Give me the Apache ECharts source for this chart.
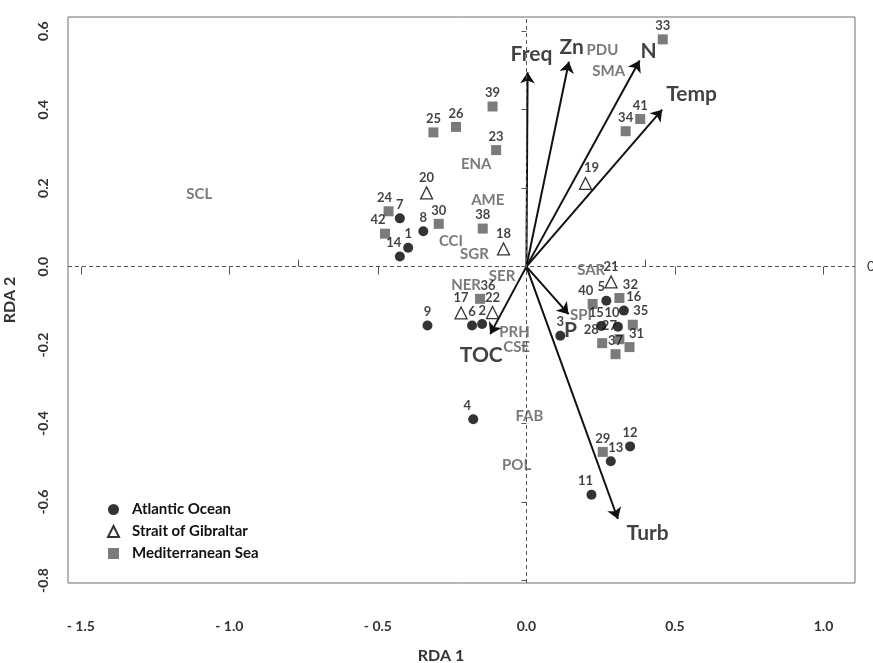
<!DOCTYPE html>
<html>
<head>
<meta charset="utf-8">
<title>RDA biplot</title>
<script src="https://cdn.jsdelivr.net/npm/echarts@6/dist/echarts.min.js"></script>
<style>
  html, body { margin: 0; padding: 0; background: #fff; }
  #chart { width: 873px; height: 663px; }
</style>
</head>
<body>
<div id="chart"></div>
<script>
// sample scores, RDA 1 / RDA 2
const atlanticIds = [1, 2, 3, 4, 5, 6, 7, 8, 9, 10, 11, 12, 13, 14, 15, 16];
const atlanticX = [-0.398, -0.149, 0.114, -0.179, 0.269, -0.183, -0.426, -0.347, -0.333, 0.308, 0.219, 0.349, 0.284, -0.426, 0.252, 0.328];
const atlanticY = [0.048, -0.146, -0.176, -0.389, -0.087, -0.150, 0.123, 0.090, -0.150, -0.153, -0.581, -0.458, -0.496, 0.026, -0.151, -0.112];

const gibraltarIds = [17, 18, 19, 20, 21, 22];
const gibraltarX = [-0.220, -0.077, 0.199, -0.336, 0.285, -0.114];
const gibraltarY = [-0.118, 0.045, 0.212, 0.188, -0.039, -0.117];

const medIds = [23, 24, 25, 26, 27, 28, 29, 30, 31, 32, 33, 34, 35, 36, 37, 38, 39, 40, 41, 42];
const medX = [-0.102, -0.464, -0.313, -0.237, 0.313, 0.255, 0.257, -0.295, 0.347, 0.313, 0.459, 0.334, 0.358, -0.156, 0.300, -0.147, -0.114, 0.223, 0.383, -0.476];
const medY = [0.297, 0.141, 0.342, 0.356, -0.185, -0.195, -0.472, 0.109, -0.205, -0.080, 0.579, 0.345, -0.148, -0.082, -0.223, 0.097, 0.408, -0.095, 0.376, 0.084];

// species scores
const speciesNames = ["SCL", "ENA", "AME", "CCI", "SGR", "SER", "NER", "PRH", "CSE", "SAR", "SPI", "FAB", "POL", "PDU", "SMA"];
const speciesX = [-1.101, -0.169, -0.130, -0.254, -0.175, -0.082, -0.203, -0.040, -0.033, 0.218, 0.184, 0.010, -0.033, 0.256, 0.277];
const speciesY = [0.184, 0.261, 0.169, 0.066, 0.032, -0.023, -0.046, -0.167, -0.205, -0.008, -0.123, -0.381, -0.506, 0.551, 0.498];

// environmental vectors (arrow tips) and their label spots
const envNames = ["Freq", "Zn", "N", "Temp", "TOC", "P", "Turb"];
const envX = [0.004, 0.143, 0.381, 0.457, -0.122, 0.142, 0.308];
const envY = [0.495, 0.522, 0.525, 0.400, -0.172, -0.121, -0.643];
const envLabelX = [0.017, 0.152, 0.411, 0.556, -0.152, 0.148, 0.408];
const envLabelY = [0.542, 0.560, 0.550, 0.440, -0.225, -0.161, -0.678];

// axis ticks
const xTickValues = [-1.5, -1.0, -0.5, 0, 0.5, 1.0];
const xTickLabels = ["- 1.5", "- 1.0", "- 0.5", "0.0", "0.5", "1.0"];
const yTickValues = [-0.8, -0.6, -0.4, -0.2, 0, 0.2, 0.4, 0.6];
const yTickLabels = ["-0.8", "-0.6", "-0.4", "-0.2", "0.0", "0.2", "0.4", "0.6"];
const topTickValues = [-0.769, 0.399];

// sideways nudges for crowded sample numbers (px)
const labelShift = { 4: -6, 5: -5, 10: -6, 11: -6, 13: 5, 14: -6, 15: -5, 16: 10, 19: 6, 24: -4, 27: -10, 28: -11, 31: 7, 32: 11, 35: 8, 36: 8, 40: -7, 42: -7 };

const FONT = 'Lato, "Open Sans", sans-serif';

const pick = (values, labels) => (v) => {
  const i = values.findIndex((t) => Math.abs(t - v) < 1e-6);
  return i < 0 ? "" : labels[i];
};

const samplePoints = (ids, xs, ys) =>
  ids.map((id, i) => ({
    value: [xs[i], ys[i], id],
    label: { offset: [labelShift[id] || 0, 0] },
  }));

const sampleLabel = {
  show: true,
  position: "top",
  distance: 2,
  formatter: (p) => p.value[2],
  fontSize: 13,
  fontWeight: "bold",
  fontFamily: FONT,
  color: "#111",
};

const chart = echarts.init(document.getElementById("chart"));

const option = {
  animation: false,
  textStyle: { fontFamily: FONT },
  grid: {
    left: 68,
    right: 18,
    top: 17,
    bottom: 80,
    outerBoundsMode: "none",
    show: true,
    borderColor: "#6e6e6e",
    borderWidth: 1,
  },
  legend: {
    orient: "vertical",
    left: 102,
    top: 497,
    itemWidth: 11,
    itemHeight: 11,
    itemGap: 7,
    textStyle: { fontSize: 15, fontWeight: "bold", color: "#111", fontFamily: FONT, padding: [0, 0, 0, 8] },
    data: ["Atlantic Ocean", "Strait of Gibraltar", "Mediterranean Sea"],
  },
  xAxis: [
    {
      type: "value",
      min: -1.543,
      max: 1.106,
      position: "bottom",
      offset: 2,
      axisLine: { show: false },
      splitLine: { show: false },
      axisTick: { show: true, length: 8, customValues: xTickValues, lineStyle: { color: "#555" } },
      axisLabel: {
        customValues: xTickValues,
        formatter: pick(xTickValues, xTickLabels),
        margin: 34,
        fontSize: 14,
        fontWeight: "bold",
        color: "#333",
        fontFamily: FONT,
      },
    },
    {
      type: "value",
      min: -1.543,
      max: 1.106,
      position: "top",
      axisLine: { show: false },
      splitLine: { show: false },
      axisTick: { show: true, length: 7, customValues: topTickValues, lineStyle: { color: "#555" } },
      axisLabel: { show: false },
    },
  ],
  yAxis: [
    {
      type: "value",
      min: -0.806,
      max: 0.636,
      axisLine: { show: false },
      splitLine: { show: false },
      axisTick: { show: true, length: 5, customValues: yTickValues, lineStyle: { color: "#555" } },
      axisLabel: {
        customValues: yTickValues,
        formatter: pick(yTickValues, yTickLabels),
        rotate: 90,
        margin: 18,
        fontSize: 14,
        fontWeight: "bold",
        color: "#333",
        fontFamily: FONT,
      },
      name: "RDA 2",
      nameLocation: "middle",
      nameGap: 50,
      nameTextStyle: { fontSize: 16, fontWeight: "bold", color: "#333", fontFamily: FONT },
    },
    {
      type: "value",
      min: -0.806,
      max: 0.636,
      position: "right",
      axisLine: { show: false },
      splitLine: { show: false },
      axisTick: { show: false },
      axisLabel: {
        customValues: [0],
        formatter: () => "0",
        margin: 12,
        fontSize: 14,
        color: "#333",
      },
    },
  ],
  graphic: [
    {
      type: "text",
      x: 441,
      y: 656,
      style: { text: "RDA 1", align: "center", verticalAlign: "middle", font: "bold 16px " + FONT, fill: "#333" },
    },
  ],
  series: [
    {
      name: "vectors",
      type: "lines",
      coordinateSystem: "cartesian2d",
      silent: true,
      symbol: ["none", "arrow"],
      symbolSize: [0, 11],
      lineStyle: { color: "#111", width: 2, opacity: 1 },
      data: envNames.map((n, i) => ({ coords: [[0, 0], [envX[i], envY[i]]] })),
      z: 2,
    },
    {
      name: "vector labels",
      type: "scatter",
      silent: true,
      symbolSize: 1,
      itemStyle: { color: "rgba(0,0,0,0)" },
      label: {
        show: true,
        position: "inside",
        formatter: (p) => p.value[2],
        fontSize: 21,
        fontWeight: "bold",
        fontFamily: FONT,
        color: "#111",
      },
      data: envNames.map((n, i) => [envLabelX[i], envLabelY[i], n]),
      markLine: {
        silent: true,
        symbol: ["none", "none"],
        label: { show: false },
        lineStyle: { type: [4, 3], color: "#555", width: 1 },
        data: [{ xAxis: 0 }, { yAxis: 0 }],
      },
      z: 1,
    },
    {
      name: "species",
      type: "scatter",
      silent: true,
      symbolSize: 1,
      itemStyle: { color: "rgba(0,0,0,0)" },
      label: {
        show: true,
        position: "inside",
        formatter: (p) => p.value[2],
        fontSize: 15,
        fontWeight: "bold",
        fontFamily: FONT,
        color: "#595959",
      },
      data: speciesNames.map((n, i) => [speciesX[i], speciesY[i], n]),
      z: 3,
    },
    {
      name: "Atlantic Ocean",
      type: "scatter",
      symbol: "circle",
      symbolSize: 10,
      itemStyle: { color: "#000" },
      label: sampleLabel,
      data: samplePoints(atlanticIds, atlanticX, atlanticY),
      z: 4,
    },
    {
      name: "Strait of Gibraltar",
      type: "scatter",
      symbol: "triangle",
      symbolSize: 12,
      itemStyle: { color: "#fff", borderColor: "#000", borderWidth: 1.3 },
      label: sampleLabel,
      data: samplePoints(gibraltarIds, gibraltarX, gibraltarY),
      z: 4,
    },
    {
      name: "Mediterranean Sea",
      type: "scatter",
      symbol: "rect",
      symbolSize: 10,
      itemStyle: { color: "#5a5a5a" },
      label: sampleLabel,
      data: samplePoints(medIds, medX, medY),
      z: 4,
    },
  ],
};

chart.setOption(option);
window.addEventListener("resize", () => chart.resize());
</script>
</body>
</html>
